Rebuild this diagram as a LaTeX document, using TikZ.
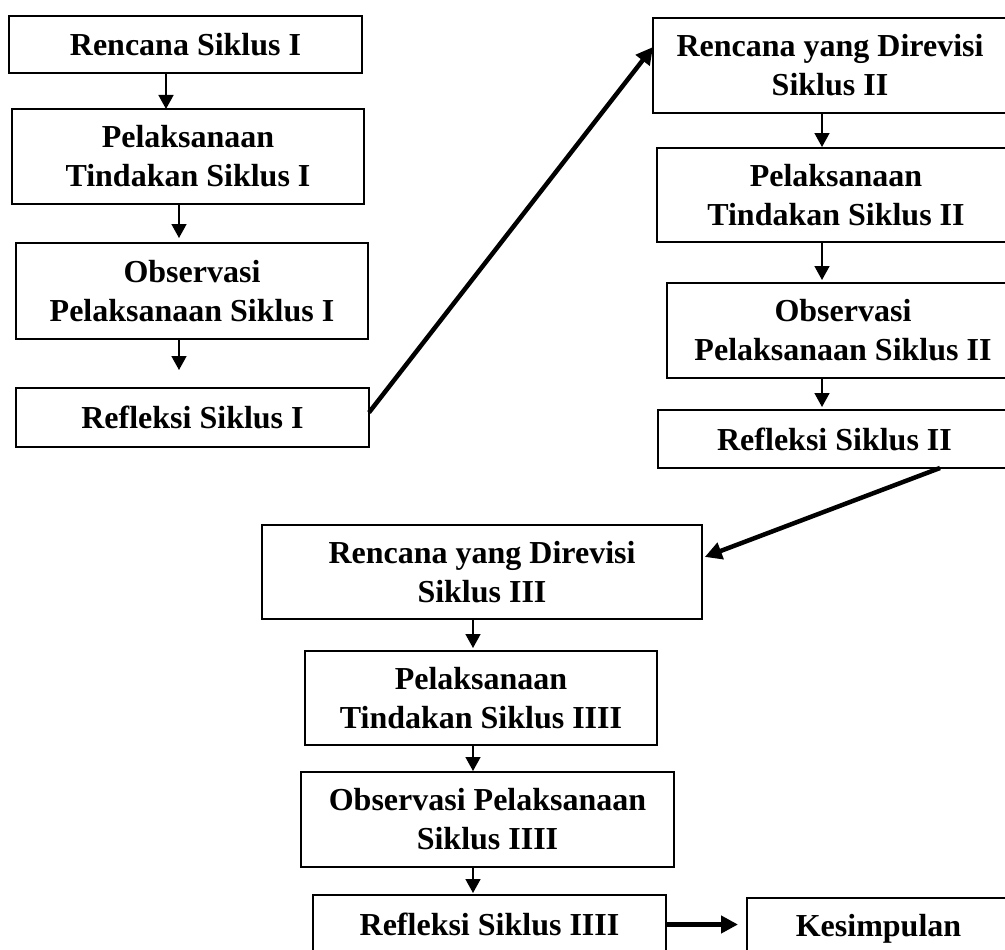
\documentclass[tikz,border=0pt]{standalone}
\usepackage{fontspec}
\setmainfont{Liberation Serif}
\usetikzlibrary{arrows.meta, positioning}
\tikzset {
  box/.style = {draw, line width=1.6pt, rectangle, align=center, inner sep=0pt, outer sep=0pt, font=\fontsize{32}{39}\selectfont\bfseries},
  line/.style = {-{Triangle[width=15pt,length=14pt]}, line width=1.6pt, color=black},
  bigline/.style = {-{Triangle[width=17pt,length=17pt]}, line width=4.5pt, color=black},
}

\begin{document}
\begin{tikzpicture}[x=1pt, y=-1pt]
    \useasboundingbox (0,0) rectangle (1005,950);
    \clip (0,0) rectangle (1005,950);

    % siklus I
    \node[box, minimum width=353pt, minimum height=57pt] (rencana1) at (185.5,44.5) {Rencana Siklus I};
    \node[box, minimum width=352pt, minimum height=95pt] (pelaksanaan1) at (188,156.5) {Pelaksanaan\\Tindakan Siklus I};
    \node[box, minimum width=352pt, minimum height=96pt] (observasi1) at (192,291) {Observasi\\Pelaksanaan Siklus I};
    \node[box, minimum width=353pt, minimum height=59pt] (refleksi1) at (192.5,417.5) {Refleksi Siklus I};

    % siklus II
    \node[box, minimum width=354pt, minimum height=95pt] (rencana2) at (830,65.5) {Rencana yang Direvisi\\Siklus II};
    \node[box, minimum width=358pt, minimum height=94pt] (pelaksanaan2) at (836,195) {Pelaksanaan\\Tindakan Siklus II};
    \node[box, minimum width=352pt, minimum height=95pt] (observasi2) at (843,330.5) {Observasi\\Pelaksanaan Siklus II};
    \node[box, minimum width=353pt, minimum height=58pt] (refleksi2) at (834.5,439) {Refleksi Siklus II};

    % siklus III
    \node[box, minimum width=440pt, minimum height=94pt] (rencana3) at (482,572) {Rencana yang Direvisi\\Siklus III};
    \node[box, minimum width=352pt, minimum height=94pt] (pelaksanaan3) at (481,698) {Pelaksanaan\\Tindakan Siklus IIII};
    \node[box, minimum width=373pt, minimum height=95pt] (observasi3) at (487.5,819.5) {Observasi Pelaksanaan\\Siklus IIII};
    \node[box, minimum width=353pt, minimum height=59pt] (refleksi3) at (489.5,924.5) {Refleksi Siklus IIII};
    \node[box, minimum width=263pt, minimum height=62pt] (kesimpulan) at (878.5,929) {Kesimpulan};

    \coordinate (kiriA) at (166,0);
    \coordinate (kiriB) at (179,0);
    \coordinate (kanan) at (822,0);
    \coordinate (tengah) at (473,0);

    \draw[line] (rencana1.south -| kiriA) -- (pelaksanaan1.north -| kiriA);
    \draw[line, shorten >=5pt] (pelaksanaan1.south -| kiriB) -- (observasi1.north -| kiriB);
    \draw[line, shorten >=18pt] (observasi1.south -| kiriB) -- (refleksi1.north -| kiriB);

    \draw[line, shorten >=1pt] (rencana2.south -| kanan) -- (pelaksanaan2.north -| kanan);
    \draw[line, shorten >=3pt] (pelaksanaan2.south -| kanan) -- (observasi2.north -| kanan);
    \draw[line, shorten >=3pt] (observasi2.south -| kanan) -- (refleksi2.north -| kanan);

    \draw[line, shorten >=3pt] (rencana3.south -| tengah) -- (pelaksanaan3.north -| tengah);
    \draw[line, shorten >=1pt] (pelaksanaan3.south -| tengah) -- (observasi3.north -| tengah);
    \draw[line, shorten >=2pt] (observasi3.south -| tengah) -- (refleksi3.north -| tengah);

    % antar siklus
    \draw[bigline] ([yshift=5pt]refleksi1.east) -- ([yshift=18.5pt]rencana2.west);
    \draw[bigline, shorten >=3pt] ([xshift=105.5pt]refleksi2.south) -- ([yshift=14pt]rencana3.east);
    \draw[bigline, shorten >=9pt] (refleksi3.east) -- (refleksi3.east -| kesimpulan.west);
\end{tikzpicture}
\end{document}
